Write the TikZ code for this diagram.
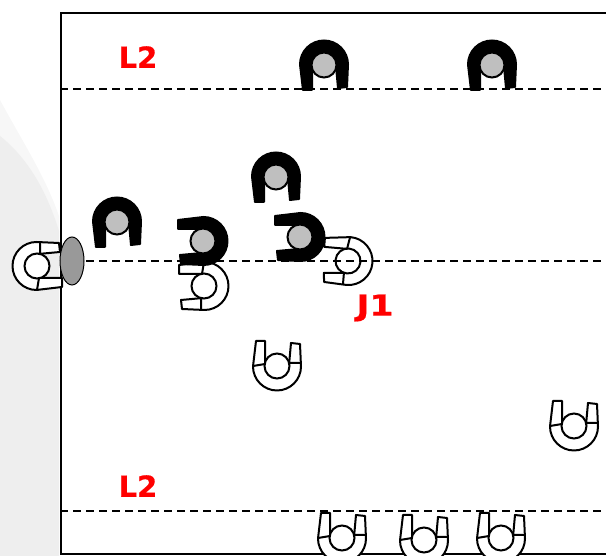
\documentclass[tikz,border=0pt]{standalone}
\usepackage{fontspec}
\setmainfont{DejaVu Sans}
\newfontfamily\labelfont[FakeBold=0.6]{DejaVu Sans Bold}
\definecolor{stripa}{HTML}{F7F7F7}
\definecolor{stripb}{HTML}{EEEEEE}
\tikzset{
  x=1pt,y=1pt,
  frameline/.style={line width=2pt,black},
  fieldline/.style={line width=2pt,black,dash pattern=on 8pt off 5pt},
  whitebody/.style={draw=black,fill=white,line width=2pt,line join=round},
  blackbody/.style={draw=black,fill=black,line width=2pt,line join=round},
  whitehead/.style={draw=black,fill=white,line width=2pt},
  greyhead/.style={draw=black,fill=black!25,line width=2pt},
  zonelabel/.style={text=red,font=\labelfont\fontsize{29}{29}\selectfont,inner sep=0pt}
}
\newcommand{\Ubody}{(-21,-25) -- (-24,0.5) arc[start angle=180,end angle=0,radius=24] -- (23,-22) -- (14,-23) -- (12,-1) arc[start angle=0,end angle=180,radius=12] -- (-12,-25) -- cycle}
\newcommand{\whiteplayer}[4]{% x y rot yscale
  \begin{scope}[shift={(#1,556-#2)},rotate=#3,yscale=#4]
    \draw[whitebody] \Ubody;
    \draw[line width=2pt] (-24,0) -- (-12,-2) (12,-3) -- (24,-3);
    \draw[whitehead] (0,0) circle (12.5);
  \end{scope}}
\newcommand{\blackplayer}[3]{% x y rot
  \begin{scope}[shift={(#1,556-#2)},rotate=#3]
    \draw[blackbody] \Ubody;
    \draw[greyhead] (0,0) circle (12.5);
  \end{scope}}
\begin{document}
\begin{tikzpicture}
\useasboundingbox (0,0) rectangle (606,556);
\fill[stripa] (0,456) .. controls (25,410) and (45,380) .. (59,340) -- (59,0) -- (0,0) -- cycle;
\fill[stripb] (0,420) .. controls (25,400) and (45,370) .. (59,325) -- (59,0) -- (0,0) -- cycle;
% frame
\draw[frameline] (606,543) -- (60.5,543) -- (60.5,2) -- (606,2);
% white players under the lines
\whiteplayer{204}{286}{-90}{1}
\whiteplayer{348}{261}{-95}{1}
\whiteplayer{277}{366}{0}{-1}
\whiteplayer{574}{426}{0}{-1}
\whiteplayer{342}{538}{0}{-1}
\whiteplayer{424}{540}{0}{-1}
\whiteplayer{501}{538}{0}{-1}
\whiteplayer{37}{266}{90}{1}
% field lines
\coordinate (a1) at (60,467); \coordinate (a2) at (606,467);
\coordinate (b1) at (60,295); \coordinate (b2) at (606,295);
\coordinate (c1) at (60,45);  \coordinate (c2) at (606,45);
\draw[fieldline] (a1) -- (a2);
\draw[fieldline] (b1) -- (b2);
\draw[fieldline] (c1) -- (c2);
% oval
\draw[draw=black,fill=black!40,line width=1pt] (72,295) ellipse [x radius=12,y radius=24];
% black players
\blackplayer{324}{65}{0}
\blackplayer{492}{65}{0}
\blackplayer{117}{222}{0}
\blackplayer{276}{177}{0}
\blackplayer{203}{241}{-90}
\blackplayer{300}{237}{-90}
% labels
\node[zonelabel] (l2top) at (138,499) {L2};
\node[zonelabel] (l2bot) at (138,70) {L2};
\node[zonelabel,xscale=1.2,transform shape] (j1) at (375,248) {J1};
\end{tikzpicture}
\end{document}
